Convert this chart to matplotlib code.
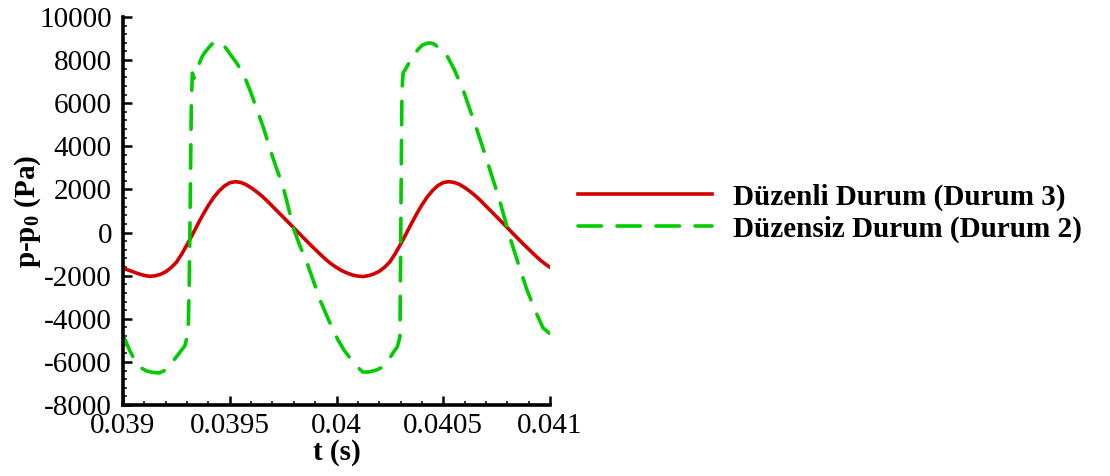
import matplotlib
matplotlib.use("Agg")
import matplotlib.pyplot as plt
from matplotlib.ticker import MultipleLocator, FixedLocator, FixedFormatter

plt.rcParams['font.family'] = ['Liberation Serif', 'DejaVu Serif']
plt.rcParams['mathtext.fontset'] = 'custom'
plt.rcParams['mathtext.rm'] = 'Liberation Serif'
plt.rcParams['mathtext.bf'] = 'Liberation Serif:bold'
plt.rcParams['axes.unicode_minus'] = False

# düzenli durum (Durum 3)
t_duzenli = [0.039000, 0.039025, 0.039050, 0.039075, 0.039100, 0.039125, 0.039150,
             0.039175, 0.039200, 0.039225, 0.039250, 0.039275, 0.039300, 0.039325,
             0.039350, 0.039375, 0.039400, 0.039425, 0.039450, 0.039475, 0.039500,
             0.039525, 0.039550, 0.039575, 0.039600, 0.039625, 0.039650, 0.039675,
             0.039700, 0.039725, 0.039750, 0.039775, 0.039800, 0.039825, 0.039850,
             0.039875, 0.039900, 0.039925, 0.039950, 0.039975, 0.040000, 0.040025,
             0.040050, 0.040075, 0.040100, 0.040125, 0.040150, 0.040175, 0.040200,
             0.040225, 0.040250, 0.040275, 0.040300, 0.040325, 0.040350, 0.040375,
             0.040400, 0.040425, 0.040450, 0.040475, 0.040500, 0.040525, 0.040550,
             0.040575, 0.040600, 0.040625, 0.040650, 0.040675, 0.040700, 0.040725,
             0.040750, 0.040775, 0.040800, 0.040825, 0.040850, 0.040875, 0.040900,
             0.040925, 0.040950, 0.040975, 0.041000]
p_duzenli = [-1650, -1740, -1830, -1920, -1990, -2030, -2010,
             -1940, -1820, -1630, -1380, -1000, -560, -100,
             380, 840, 1260, 1630, 1930, 2160, 2310,
             2360, 2330, 2230, 2080, 1900, 1700, 1470,
             1220, 970, 720, 470, 220, -40, -290,
             -540, -780, -1020, -1250, -1450, -1620, -1770,
             -1880, -1970, -2020, -2040, -2000, -1920, -1800,
             -1610, -1360, -980, -540, -80, 400, 860,
             1280, 1650, 1950, 2180, 2320, 2360, 2330,
             2240, 2090, 1910, 1710, 1480, 1230, 980,
             730, 480, 230, -30, -280, -530, -770,
             -1010, -1240, -1440, -1610]

# düzensiz durum (Durum 2)
t_duzensiz = [0.039000, 0.039030, 0.039060, 0.039085, 0.039110, 0.039140, 0.039170,
              0.039200, 0.039230, 0.039260, 0.039290, 0.039305, 0.039310, 0.039315,
              0.039320, 0.039325, 0.039332, 0.039345, 0.039358, 0.039370, 0.039383,
              0.039395, 0.039408, 0.039420, 0.039433, 0.039445, 0.039458, 0.039470,
              0.039485, 0.039500, 0.039530, 0.039562, 0.039595, 0.039628, 0.039660,
              0.039690, 0.039720, 0.039750, 0.039775, 0.039800, 0.039830, 0.039862,
              0.039893, 0.039923, 0.039965, 0.040007, 0.040035, 0.040063, 0.040085,
              0.040105, 0.040124, 0.040150, 0.040180, 0.040200, 0.040218, 0.040245,
              0.040265, 0.040285, 0.040297, 0.040300, 0.040303, 0.040306, 0.040309,
              0.040312, 0.040330, 0.040350, 0.040370, 0.040385, 0.040400, 0.040420,
              0.040438, 0.040455, 0.040470, 0.040490, 0.040508, 0.040550, 0.040593,
              0.040625, 0.040658, 0.040690, 0.040719, 0.040766, 0.040813, 0.040850,
              0.040892, 0.040930, 0.040967, 0.041000]
p_duzensiz = [-4750, -5440, -6020, -6280, -6420, -6490, -6510,
              -6380, -6020, -5640, -5250, -4650, -2500, 1500,
              6000, 7400, 7150, 7500, 7850, 8150, 8350,
              8500, 8650, 8780, 8840, 8850, 8800, 8700,
              8520, 8300, 7900, 7400, 6600, 5690, 4800,
              3830, 2950, 2120, 1150, 150, -650, -1410,
              -2280, -3130, -4100, -4980, -5450, -5820, -6080,
              -6300, -6470, -6470, -6400, -6320, -6230, -5900,
              -5580, -5300, -4850, -1500, 2500, 6000, 7000,
              7400, 7700, 8050, 8350, 8530, 8680, 8770,
              8800, 8760, 8650, 8520, 8380, 7600, 6620,
              5700, 4760, 3800, 2900, 1420, -250, -1400,
              -2660, -3600, -4420, -4700]

x_ticks = [0.039, 0.0395, 0.04, 0.0405, 0.041]
x_tick_labels = ['0.039', '0.0395', '0.04', '0.0405', '0.041']

fig = plt.figure(figsize=(11.1, 4.76), dpi=100)
ax = fig.add_axes([123/1110, 1 - 405/476, 427/1110, 388/476])

ax.plot(t_duzenli, p_duzenli, color='#d40000', lw=2.6,
        label='Düzenli Durum (Durum 3)')
ax.plot(t_duzensiz, p_duzensiz, color='#00cc00', lw=2.6, dashes=(6.5, 4.3),
        dash_capstyle='round', label='Düzensiz Durum (Durum 2)')

ax.set_xlim(0.039, 0.041)
ax.set_ylim(-8000, 10000)
ax.xaxis.set_major_locator(FixedLocator(x_ticks))
ax.xaxis.set_major_formatter(FixedFormatter(x_tick_labels))
ax.xaxis.set_minor_locator(MultipleLocator(0.0001))
ax.yaxis.set_major_locator(MultipleLocator(2000))
ax.yaxis.set_minor_locator(MultipleLocator(400))

for side in ['top', 'right']:
    ax.spines[side].set_visible(False)
for side in ['left', 'bottom']:
    ax.spines[side].set_linewidth(2.6)

ax.tick_params(which='major', direction='in', length=6.5, width=1.8,
               labelsize=21, pad=6)
ax.tick_params(which='minor', direction='in', length=3.2, width=1.1)
ax.tick_params(axis='y', which='major', pad=8)

ax.set_xlabel('t (s)', fontsize=21, fontweight='bold', labelpad=0)
ax.set_ylabel(r'p-p$_\mathbf{0}$ (Pa)', fontsize=21, fontweight='bold', labelpad=-3)

fig.legend(loc='center left', bbox_to_anchor=(578/1110, 1 - 213/476),
           frameon=False, prop={'weight': 'bold', 'size': 21},
           handlelength=4.6, handletextpad=0.7, labelspacing=0.17,
           borderpad=0, borderaxespad=0)

fig.savefig('out.png', dpi=100)
